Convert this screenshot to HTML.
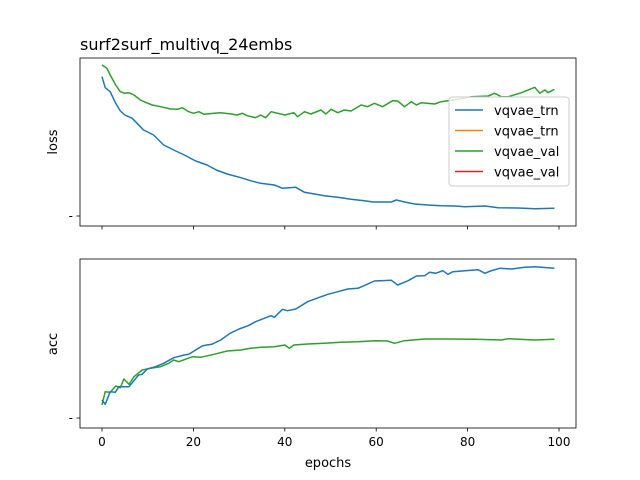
<!DOCTYPE html>
<html><head><meta charset="utf-8">
<style>html,body{margin:0;padding:0;background:#fff}svg{display:block;font-family:"DejaVu Sans","Liberation Sans",sans-serif}</style>
</head><body>
<svg id="fig" width="640" height="480" viewBox="0 0 640 480">
<rect width="640" height="480" fill="#fff"/>
<text x="80" y="50" font-size="16" fill="#000">surf2surf_multivq_24embs</text>
<text transform="translate(57,142) rotate(-90)" text-anchor="middle" font-size="13">loss</text>
<text transform="translate(57,344) rotate(-90)" text-anchor="middle" font-size="13">acc</text>
<text x="328" y="467" text-anchor="middle" font-size="13">epochs</text>
<g id="plots"></g>
</svg>
<script>
const xTicks=[0,20,40,60,80,100];
const lossTrnEp=[0,0.7,1.8,3,4,5,6.6,8.4,9.1,11.3,13.5,15.7,18,20.5,23,25,27.4,30.4,32.5,34.7,37.7,39.5,42.4,44.3,46.5,48.6,51.6,54.5,57.4,59.3,63.3,64.4,66.2,68.4,71.3,74.2,77.2,79.4,83.8,86.7,91,94.7,99];
const lossTrn=[4.20,3.87,3.75,3.40,3.17,3.05,2.95,2.70,2.60,2.45,2.15,2.00,1.85,1.67,1.55,1.40,1.28,1.17,1.08,1.00,0.95,0.85,0.88,0.73,0.68,0.63,0.58,0.52,0.48,0.44,0.44,0.50,0.44,0.38,0.35,0.33,0.32,0.30,0.32,0.27,0.26,0.24,0.25];
const lossValEp=[0,1.1,1.8,3,4,5,5.9,7,8.4,9.5,11,12.8,15,16.5,17.6,19,20,21.2,22.3,24.5,26,28.2,29.6,30.7,31.8,33.6,34.7,35.8,37,40,42,42.8,44.3,45.7,47.9,49,50.1,51.6,53,54.5,56.7,58.1,59.6,61.4,63.6,64.7,66.2,67.7,68.8,69.9,72.8,74.2,77.9,80.8,84.5,85.9,87.4,88.9,91.8,94.7,95.8,96.9,97.6,99];
const lossVal=[4.55,4.45,4.25,3.95,3.75,3.70,3.72,3.65,3.50,3.43,3.35,3.30,3.23,3.22,3.27,3.15,3.10,3.15,3.07,3.10,3.12,3.08,3.05,3.10,3.03,2.97,3.05,2.97,3.15,3.05,3.12,3.00,3.15,3.08,3.20,3.08,3.22,3.12,3.20,3.17,3.35,3.30,3.40,3.30,3.48,3.47,3.30,3.45,3.35,3.42,3.38,3.45,3.52,3.60,3.62,3.70,3.60,3.60,3.72,3.88,3.70,3.80,3.72,3.82];
const accTrnEp=[0,0.7,1.8,2.9,3.7,5.9,8,8.8,9.9,11.7,13.5,15.7,18,19,22,24,26,28,30,32,33.6,35.5,37,37.7,39.5,40.6,42.4,45,47,49.4,51.6,53.8,56,58,59.6,63.3,64.7,67,68.8,70.6,71.7,73,74.6,75.7,76.8,79.4,82.3,83.8,85,87,89.6,92.5,94.7,99];
const accTrn=[0.65,0.52,0.90,0.88,1.05,1.05,1.40,1.42,1.58,1.65,1.75,1.92,2.00,2.02,2.28,2.32,2.45,2.65,2.78,2.88,3.00,3.10,3.18,3.13,3.37,3.33,3.38,3.60,3.70,3.82,3.90,3.98,4.00,4.12,4.22,4.24,4.10,4.23,4.37,4.38,4.48,4.45,4.53,4.42,4.50,4.53,4.56,4.45,4.52,4.60,4.58,4.63,4.65,4.60];
const accValEp=[0,0.7,1.8,3,4,4.8,5.9,7,8.8,10.6,12.8,14.6,15.7,16.8,19.8,21.6,24.5,27.4,30.4,32.5,34.7,37.7,40,41,42,45,48.6,52.3,56,59.6,62.5,64,66.2,70.6,75.7,81.6,87.4,88.9,94.7,99];
const accVal=[0.50,0.90,0.88,1.07,1.02,1.28,1.12,1.35,1.55,1.60,1.65,1.75,1.85,1.80,1.95,1.93,2.02,2.12,2.15,2.20,2.23,2.25,2.30,2.20,2.30,2.33,2.35,2.38,2.40,2.43,2.42,2.35,2.43,2.48,2.48,2.47,2.45,2.49,2.45,2.47];

const NS='http://www.w3.org/2000/svg';
const g=document.getElementById('plots');
const X0=80,X1=576;
function xs(e){return 102+(e/100)*(559-102);}
function mk(tag,attrs){const el=document.createElementNS(NS,tag);for(const k in attrs)el.setAttribute(k,attrs[k]);g.appendChild(el);return el;}
function panel(top,bot,base,name,series,showLabels){
  const ys=v=>base+(5-v)*100/3;
  series.forEach(s=>{
    const pts=s.ep.map((e,i)=>xs(e).toFixed(1)+','+ys(s.v[i]).toFixed(1)).join(' ');
    const pl=mk('polyline',{points:pts,fill:'none',stroke:s.c,'stroke-width':1.5,'stroke-linejoin':'round'});
    
    
  });
  const fr=mk('rect',{x:X0,y:top,width:X1-X0,height:bot-top,fill:'none',stroke:'#000','stroke-width':0.8});
  
  
  xTicks.forEach(t=>{
    const tk=mk('line',{x1:xs(t),x2:xs(t),y1:bot,y2:bot+3.5,stroke:'#000','stroke-width':0.8});
    
    
    if(showLabels){
      const tl=mk('text',{x:xs(t),y:bot+18,'text-anchor':'middle','font-size':12});
      tl.textContent=String(t);
      
      
    }
  });
  const yt=mk('line',{x1:X0-3.5,x2:X0,y1:bot-10,y2:bot-10,stroke:'#000','stroke-width':0.8});
  
  
  const yl=mk('text',{x:X0-7,y:bot-6,'text-anchor':'end','font-size':12});
  yl.textContent='-';
  
  
}
panel(58,226,50,'loss-panel',[{ep:lossValEp,v:lossVal,c:'#2ca02c',n:'loss-val-line'},{ep:lossTrnEp,v:lossTrn,c:'#1f77b4',n:'loss-trn-line'}],false);
panel(259,428,255,'acc-panel',[{ep:accValEp,v:accVal,c:'#2ca02c',n:'acc-val-line'},{ep:accTrnEp,v:accTrn,c:'#1f77b4',n:'acc-trn-line'}],true);

// legend
const lb=mk('rect',{x:449,y:97,width:120,height:89,rx:3,fill:'#fff','fill-opacity':0.8,stroke:'#ccc','stroke-width':1});


const legNames=['vqvae_trn','vqvae_trn','vqvae_val','vqvae_val'];
const legColors=['#1f77b4','#ff7f0e','#2ca02c','#d62728'];
legNames.forEach((n,i)=>{
  const y=110+i*20.5;
  const ln=mk('line',{x1:455,x2:483,y1:y,y2:y,stroke:legColors[i],'stroke-width':1.5});
  
  
  const t=mk('text',{x:494,y:y+5,'font-size':13});
  t.textContent=n;
  
  
});
</script>
</body></html>
